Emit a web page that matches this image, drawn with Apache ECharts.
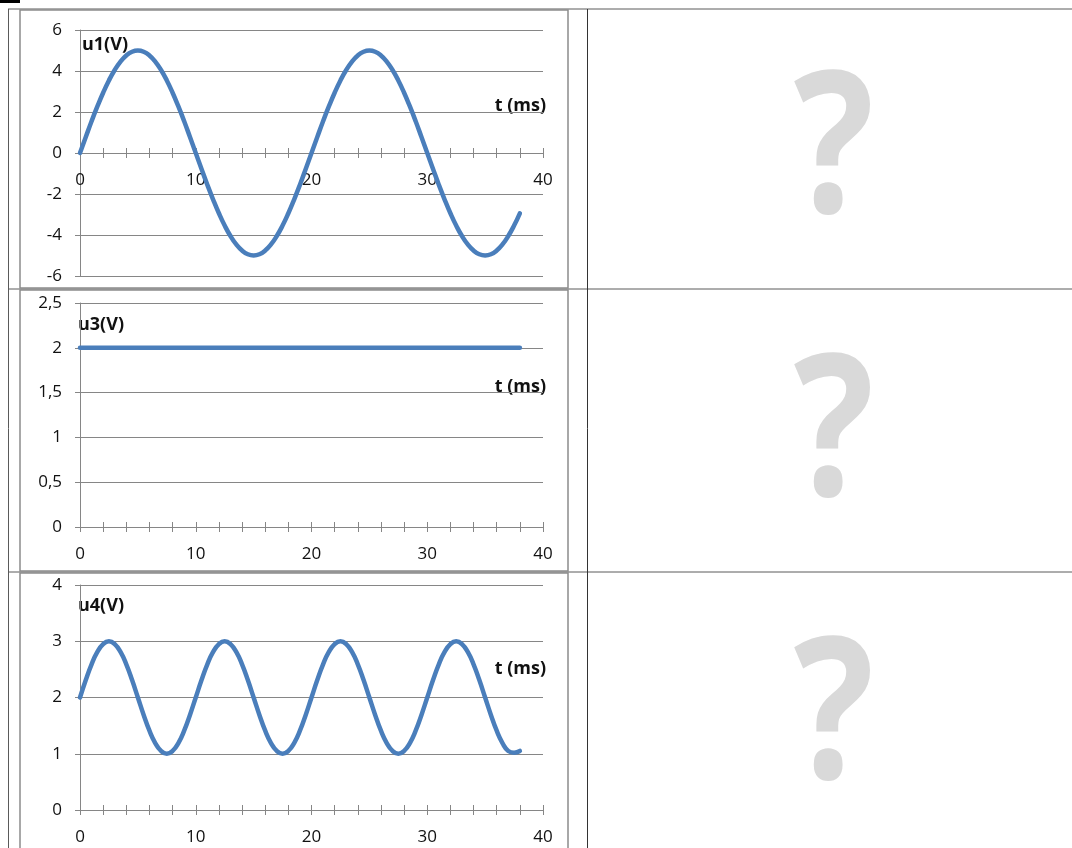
<!DOCTYPE html>
<html>
<head>
<meta charset="utf-8">
<title>u1 u3 u4</title>
<script src="https://cdn.jsdelivr.net/npm/echarts@6/dist/echarts.min.js"></script>
<style>
html, body { margin: 0; padding: 0; background: #fff; }
#main { width: 1072px; height: 848px; }
</style>
</head>
<body>
<div id="main"></div>
<script>
// time points (ms), read every 0.5 ms
var tValues = [0, 0.5, 1, 1.5, 2, 2.5, 3, 3.5, 4, 4.5, 5, 5.5, 6, 6.5, 7, 7.5, 8, 8.5, 9, 9.5,
    10, 10.5, 11, 11.5, 12, 12.5, 13, 13.5, 14, 14.5, 15, 15.5, 16, 16.5, 17, 17.5, 18, 18.5, 19, 19.5,
    20, 20.5, 21, 21.5, 22, 22.5, 23, 23.5, 24, 24.5, 25, 25.5, 26, 26.5, 27, 27.5, 28, 28.5, 29, 29.5,
    30, 30.5, 31, 31.5, 32, 32.5, 33, 33.5, 34, 34.5, 35, 35.5, 36, 36.5, 37, 37.5, 38];
// u1 (V)
var u1Values = [0, 0.78, 1.55, 2.27, 2.94, 3.54, 4.05, 4.46, 4.76, 4.94, 5, 4.94, 4.76, 4.46, 4.05, 3.54, 2.94, 2.27, 1.55, 0.78,
    0, -0.78, -1.55, -2.27, -2.94, -3.54, -4.05, -4.46, -4.76, -4.94, -5, -4.94, -4.76, -4.46, -4.05, -3.54, -2.94, -2.27, -1.55, -0.78,
    0, 0.78, 1.55, 2.27, 2.94, 3.54, 4.05, 4.46, 4.76, 4.94, 5, 4.94, 4.76, 4.46, 4.05, 3.54, 2.94, 2.27, 1.55, 0.78,
    0, -0.78, -1.55, -2.27, -2.94, -3.54, -4.05, -4.46, -4.76, -4.94, -5, -4.94, -4.76, -4.46, -4.05, -3.54, -2.94];
// u3 (V) - constant
var u3Times = [0, 38];
var u3Values = [2, 2];
// u4 (V)
var u4Values = [2, 2.31, 2.59, 2.81, 2.95, 3, 2.95, 2.81, 2.59, 2.31, 2, 1.69, 1.41, 1.19, 1.05, 1, 1.05, 1.19, 1.41, 1.69,
    2, 2.31, 2.59, 2.81, 2.95, 3, 2.95, 2.81, 2.59, 2.31, 2, 1.69, 1.41, 1.19, 1.05, 1, 1.05, 1.19, 1.41, 1.69,
    2, 2.31, 2.59, 2.81, 2.95, 3, 2.95, 2.81, 2.59, 2.31, 2, 1.69, 1.41, 1.19, 1.05, 1, 1.05, 1.19, 1.41, 1.69,
    2, 2.31, 2.59, 2.81, 2.95, 3, 2.95, 2.81, 2.59, 2.31, 2, 1.69, 1.41, 1.19, 1.05, 1.02, 1.05];

var xTicks = [0, 10, 20, 30, 40];
var u1Ticks = [-6, -4, -2, 0, 2, 4, 6];
var u3Ticks = [0, 0.5, 1, 1.5, 2, 2.5];
var u4Ticks = [0, 1, 2, 3, 4];

var GRID = '#868686';
var LINE = '#4a7ebb';
var FONT = '"Open Sans", "DejaVu Sans", sans-serif';

function pairs(xs, ys) {
    return xs.map(function (x, i) { return [x, ys[i]]; });
}

var panels = [
    { top: 30, height: 246, ticks: u1Ticks, data: pairs(tValues, u1Values), name: 'u1(V)', nameX: 82, nameY: 45, tY: 106 },
    { top: 303, height: 224, ticks: u3Ticks, data: pairs(u3Times, u3Values), name: 'u3(V)', nameX: 78, nameY: 325, tY: 387 },
    { top: 585, height: 225, ticks: u4Ticks, data: pairs(tValues, u4Values), name: 'u4(V)', nameX: 78, nameY: 606, tY: 669 }
];

var grids = [], xAxes = [], yAxes = [], series = [], graphics = [];

panels.forEach(function (p, i) {
    var yMin = p.ticks[0], yMax = p.ticks[p.ticks.length - 1];
    // move the time axis up to the 0 V line
    var zeroOffset = yMin < 0 ? -p.height * (0 - yMin) / (yMax - yMin) : 0;

    grids.push({ left: 80, top: p.top, width: 463, height: p.height, outerBoundsMode: 'none' });

    // main x axis: ticks below, labels every 10
    xAxes.push({
        gridIndex: i,
        type: 'value',
        position: 'bottom',
        offset: zeroOffset,
        min: xTicks[0],
        max: xTicks[xTicks.length - 1],
        interval: 2,
        axisLine: { show: true, onZero: false, lineStyle: { color: GRID, width: 1 } },
        axisTick: { show: true, length: 5, lineStyle: { color: GRID } },
        axisLabel: {
            margin: 19, color: '#111', fontSize: 17, fontFamily: FONT,
            formatter: function (v) { return xTicks.indexOf(v) >= 0 ? String(v) : ''; }
        },
        splitLine: { show: false }
    });
    // second x axis only for the upper half of the crossing ticks
    xAxes.push({
        gridIndex: i,
        type: 'value',
        position: 'bottom',
        offset: zeroOffset,
        min: xTicks[0],
        max: xTicks[xTicks.length - 1],
        interval: 2,
        axisLine: { show: false, onZero: false },
        axisTick: { show: true, inside: true, length: 5, lineStyle: { color: GRID } },
        axisLabel: { show: false },
        splitLine: { show: false }
    });

    yAxes.push({
        gridIndex: i,
        type: 'value',
        min: yMin,
        max: yMax,
        interval: p.ticks[1] - p.ticks[0],
        axisLine: { show: true, onZero: false, lineStyle: { color: GRID, width: 1 } },
        axisTick: { show: true, length: 5, lineStyle: { color: GRID } },
        axisLabel: {
            margin: 18, color: '#111', fontSize: 17, fontFamily: FONT,
            formatter: function (v) { return String(v).replace('.', ','); }
        },
        splitLine: { show: true, lineStyle: { color: GRID, width: 1 } }
    });

    series.push({
        type: 'line',
        xAxisIndex: i * 2,
        yAxisIndex: i,
        data: p.data,
        smooth: true,
        symbol: 'none',
        lineStyle: { color: LINE, width: 4.5, cap: 'round', join: 'round' },
        z: 3
    });

    graphics.push({
        type: 'text', x: p.nameX, y: p.nameY,
        style: { text: p.name, font: 'bold 18px ' + FONT, fill: '#111', align: 'left', verticalAlign: 'middle' }
    });
    graphics.push({
        type: 'text', x: 546, y: p.tY,
        style: { text: 't (ms)', font: 'bold 18px ' + FONT, fill: '#111', align: 'right', verticalAlign: 'middle' }
    });
    // question mark in the right-hand cell
    graphics.push({
        type: 'text', x: 834, y: 156 + i * 283, scaleX: 0.85,
        style: { text: '?', font: 'bold 198px ' + FONT, fill: '#d9d9d9', align: 'center', verticalAlign: 'middle' }
    });
});

// table and chart frames
var frameStyle = { fill: 'none', stroke: '#8c8c8c', lineWidth: 1.5 };
var tableStyle = { stroke: '#5a5a5a', lineWidth: 1 };
graphics.push(
    { type: 'rect', shape: { x: 0, y: 0, width: 20, height: 3 }, style: { fill: '#000' } },
    { type: 'line', shape: { x1: 8, y1: 9, x2: 1072, y2: 9 }, style: tableStyle },
    { type: 'line', shape: { x1: 8, y1: 289, x2: 1072, y2: 289 }, style: tableStyle },
    { type: 'line', shape: { x1: 8, y1: 572, x2: 1072, y2: 572 }, style: tableStyle },
    { type: 'line', shape: { x1: 8.5, y1: 9, x2: 8.5, y2: 848 }, style: tableStyle },
    { type: 'line', shape: { x1: 587.5, y1: 9, x2: 587.5, y2: 848 }, style: { stroke: '#333', lineWidth: 1 } },
    { type: 'rect', shape: { x: 20, y: 10, width: 548, height: 278 }, style: frameStyle },
    { type: 'rect', shape: { x: 20, y: 290, width: 548, height: 281 }, style: frameStyle },
    { type: 'rect', shape: { x: 20, y: 573, width: 548, height: 290 }, style: frameStyle }
);

var chart = echarts.init(document.getElementById('main'));
chart.setOption({
    animation: false,
    backgroundColor: '#fff',
    grid: grids,
    xAxis: xAxes,
    yAxis: yAxes,
    series: series,
    graphic: graphics
});
window.addEventListener('resize', function () { chart.resize(); });
</script>
</body>
</html>
